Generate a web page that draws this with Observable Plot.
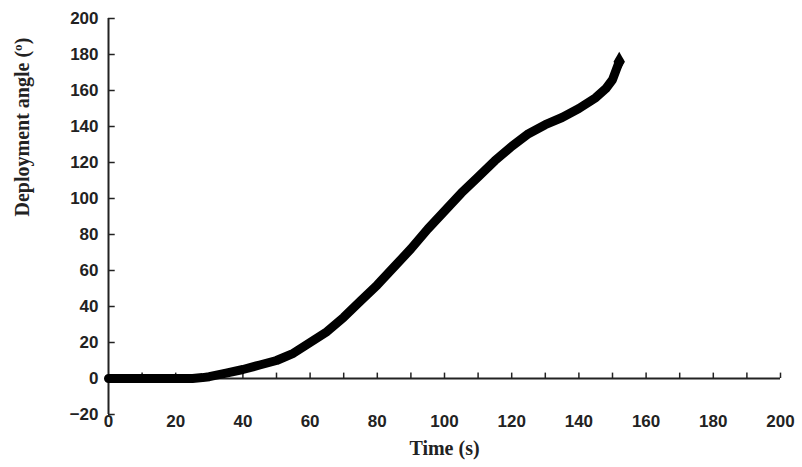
<!DOCTYPE html>
<html><head>
<script src="https://cdn.jsdelivr.net/npm/d3@7"></script>
<script src="https://cdn.jsdelivr.net/npm/@observablehq/plot@0.6"></script>
<style>body{margin:0;background:#fff}</style>
</head><body><div id="chart"></div>
<script>
const time = [0, 5, 10, 15, 20, 25, 28, 30, 35, 40, 45, 50, 55, 60, 65, 70, 75, 80, 85, 90, 95, 100, 105, 110, 115, 120, 125, 130, 135, 140, 145, 148, 150, 152];
const angle = [0, 0, 0, 0, 0, 0, 0.5, 1, 3, 5, 7.5, 10, 14, 20, 26, 34, 43, 52, 62, 72, 83, 93, 103, 112, 121, 129, 136, 141, 145, 150, 156, 161, 166, 176];
const xTicks = d3.range(0, 201, 20);
const minorTicks = d3.range(10, 201, 10);
const yTicks = d3.range(-20, 201, 20);
const data = time.map((t, i) => ({t, a: angle[i]}));

const chart = Plot.plot({
  width: 802, height: 467,
  marginLeft: 108, marginRight: 22, marginTop: 18, marginBottom: 53,
  style: {fontFamily: "Liberation Sans", fontSize: "17px", fontWeight: "bold", color: "#222"},
  x: {domain: [0, 200]},
  y: {domain: [-20, 200]},
  marks: [
    Plot.ruleY([0], {stroke: "#222", strokeWidth: 2}),
    Plot.ruleX([0], {y1: -20, y2: 200, stroke: "#222", strokeWidth: 2}),
    Plot.ruleX(minorTicks, {y1: 0, y2: 3, stroke: "#222", strokeWidth: 1.5}),
    Plot.ruleY(yTicks, {x1: 0, x2: 2, stroke: "#222", strokeWidth: 1.5}),
    Plot.axisX(xTicks, {anchor: "bottom", tickSize: 0, tickPadding: 0, label: null, fontSize: 17}),
    Plot.axisY(yTicks, {anchor: "left", tickSize: 0, tickPadding: 10, label: null, fontSize: 17}),
    Plot.line(data, {x: "t", y: "a", stroke: "#000", strokeWidth: 9, strokeLinecap: "round", strokeLinejoin: "round"}),
    Plot.dot([data[data.length - 1]], {x: "t", y: "a", symbol: "diamond", r: 6, fill: "#000"}),
    Plot.text(["Time (s)"], {frameAnchor: "bottom", dy: 40, fontFamily: "Liberation Serif", fontSize: 20, fontWeight: "bold"}),
    Plot.text(["Deployment angle (º)"], {frameAnchor: "left", dx: -86, rotate: -90, fontFamily: "Liberation Serif", fontSize: 20, fontWeight: "bold"})
  ]
});
document.getElementById("chart").append(chart);
</script></body></html>
